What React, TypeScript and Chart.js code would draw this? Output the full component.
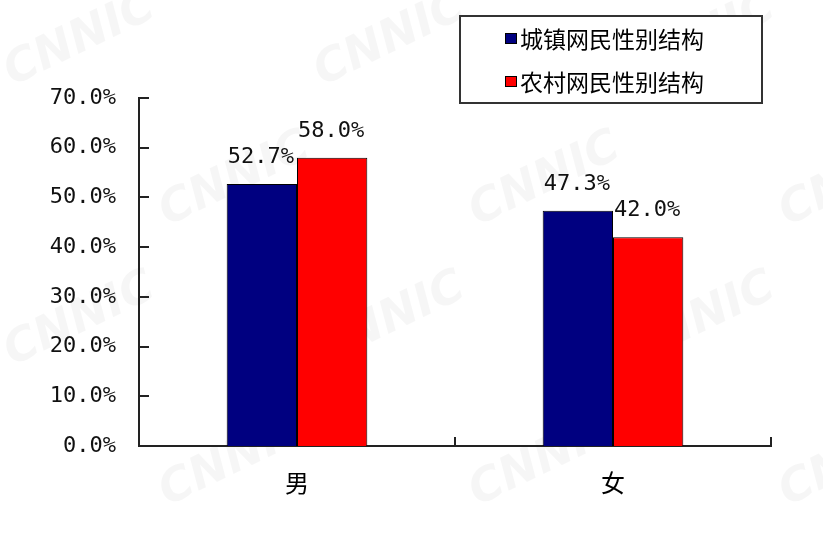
import React, { useEffect, useRef } from "react";
import { Chart, registerables } from "chart.js";

Chart.register(...registerables);

const categories = ["男", "女"];
const seriesNames = ["城镇网民性别结构", "农村网民性别结构"];
const urbanValues = [52.7, 47.3];
const ruralValues = [58.0, 42.0];
const seriesColors = ["#000080", "#FF0000"];
const yMax = 70;
const yStep = 10;

const MONO = '"DejaVu Sans Mono", monospace';
const CJK = '"Noto Sans CJK SC", sans-serif';

const watermarkPlugin = {
  id: "watermark",
  beforeDraw(chart: any) {
    const ctx = chart.ctx;
    ctx.save();
    ctx.fillStyle = "rgba(0,0,0,0.035)";
    ctx.font = 'bold italic 46px "DejaVu Sans", sans-serif';
    ctx.textAlign = "center";
    ctx.textBaseline = "middle";
    for (let r = -1; r < 5; r++) {
      for (let c = -1; c < 5; c++) {
        const x = c * 310 + (r % 2 === 0 ? 0 : 155) + 80;
        const y = r * 140 + 40;
        ctx.save();
        ctx.translate(x, y);
        ctx.rotate(-0.45);
        ctx.fillText("CNNIC", 0, 0);
        ctx.restore();
      }
    }
    ctx.restore();
  },
};

const decorPlugin = {
  id: "decor",
  afterDraw(chart: any) {
    const ctx = chart.ctx;
    const area = chart.chartArea;
    const yScale = chart.scales.y;
    ctx.save();
    // inside ticks on y axis
    ctx.strokeStyle = "#222";
    ctx.lineWidth = 2;
    for (let v = 0; v <= yMax; v += yStep) {
      const y = Math.round(yScale.getPixelForValue(v));
      ctx.beginPath();
      ctx.moveTo(area.left, y);
      ctx.lineTo(area.left + 10, y);
      ctx.stroke();
    }
    // inside ticks on x axis at category boundaries
    const n = categories.length;
    for (let i = 1; i <= n; i++) {
      const x = Math.round(area.left + (i * (area.right - area.left)) / n);
      ctx.beginPath();
      ctx.moveTo(x, area.bottom);
      ctx.lineTo(x, area.bottom - 9);
      ctx.stroke();
    }
    // data labels
    ctx.fillStyle = "#111";
    ctx.font = `22px ${MONO}`;
    ctx.textAlign = "center";
    ctx.textBaseline = "alphabetic";
    chart.data.datasets.forEach((ds: any, di: number) => {
      const meta = chart.getDatasetMeta(di);
      meta.data.forEach((el: any, i: number) => {
        const label = Number(ds.data[i]).toFixed(1) + "%";
        ctx.fillText(label, el.x - 1, el.y - 21);
      });
    });
    // legend
    const lx = 460, ly = 16, lw = 302, lh = 87;
    ctx.fillStyle = "#fff";
    ctx.fillRect(lx, ly, lw, lh);
    ctx.strokeStyle = "#333";
    ctx.lineWidth = 2;
    ctx.strokeRect(lx, ly, lw, lh);
    ctx.font = `23px ${CJK}`;
    ctx.textAlign = "left";
    ctx.textBaseline = "middle";
    seriesNames.forEach((name, i) => {
      const cy = 38 + i * 43;
      ctx.fillStyle = seriesColors[i];
      ctx.fillRect(505, cy - 5, 12, 11);
      ctx.strokeStyle = "#000";
      ctx.lineWidth = 1;
      ctx.strokeRect(505.5, cy - 4.5, 11, 10);
      ctx.fillStyle = "#000";
      ctx.fillText(name, 520, cy + 1);
    });
    ctx.restore();
  },
};

export default function App() {
  const ref = useRef<HTMLCanvasElement | null>(null);
  useEffect(() => {
    if (!ref.current) return;
    const chart = new Chart(ref.current, {
      type: "bar",
      data: {
        labels: categories,
        datasets: [
          {
            label: seriesNames[0],
            data: urbanValues,
            backgroundColor: seriesColors[0],
            borderColor: "#000",
            borderWidth: 1,
          },
          {
            label: seriesNames[1],
            data: ruralValues,
            backgroundColor: seriesColors[1],
            borderColor: "#000",
            borderWidth: 1,
          },
        ],
      },
      options: {
        animation: false,
        responsive: false,
        maintainAspectRatio: false,
        devicePixelRatio: 1,
        layout: { padding: { top: 98, right: 52, left: 0, bottom: 0 } },
        datasets: { bar: { barPercentage: 1, categoryPercentage: 0.445 } },
        plugins: {
          legend: { display: false },
          tooltip: { enabled: false },
        },
        scales: {
          x: {
            grid: { display: false, drawTicks: false },
            border: { display: true, color: "#222", width: 2 },
            ticks: {
              color: "#000",
              font: { family: CJK, size: 24 },
              padding: 22,
            },
            afterFit(scale: any) {
              scale.height = 90;
            },
          },
          y: {
            min: 0,
            max: yMax,
            grid: { display: false, drawTicks: false },
            border: { display: true, color: "#222", width: 2 },
            ticks: {
              stepSize: yStep,
              color: "#111",
              font: { family: MONO, size: 22 },
              padding: 23,
              callback: (v: any) => Number(v).toFixed(1) + "%",
            },
            afterFit(scale: any) {
              scale.width = 139;
            },
          },
        },
      },
      plugins: [watermarkPlugin, decorPlugin],
    });
    return () => chart.destroy();
  }, []);
  return (
    <div style={{ position: "fixed", left: 0, top: 0, width: 823, height: 536, background: "#fff" }}>
      <canvas ref={ref} width={823} height={536} style={{ display: "block" }} />
    </div>
  );
}
